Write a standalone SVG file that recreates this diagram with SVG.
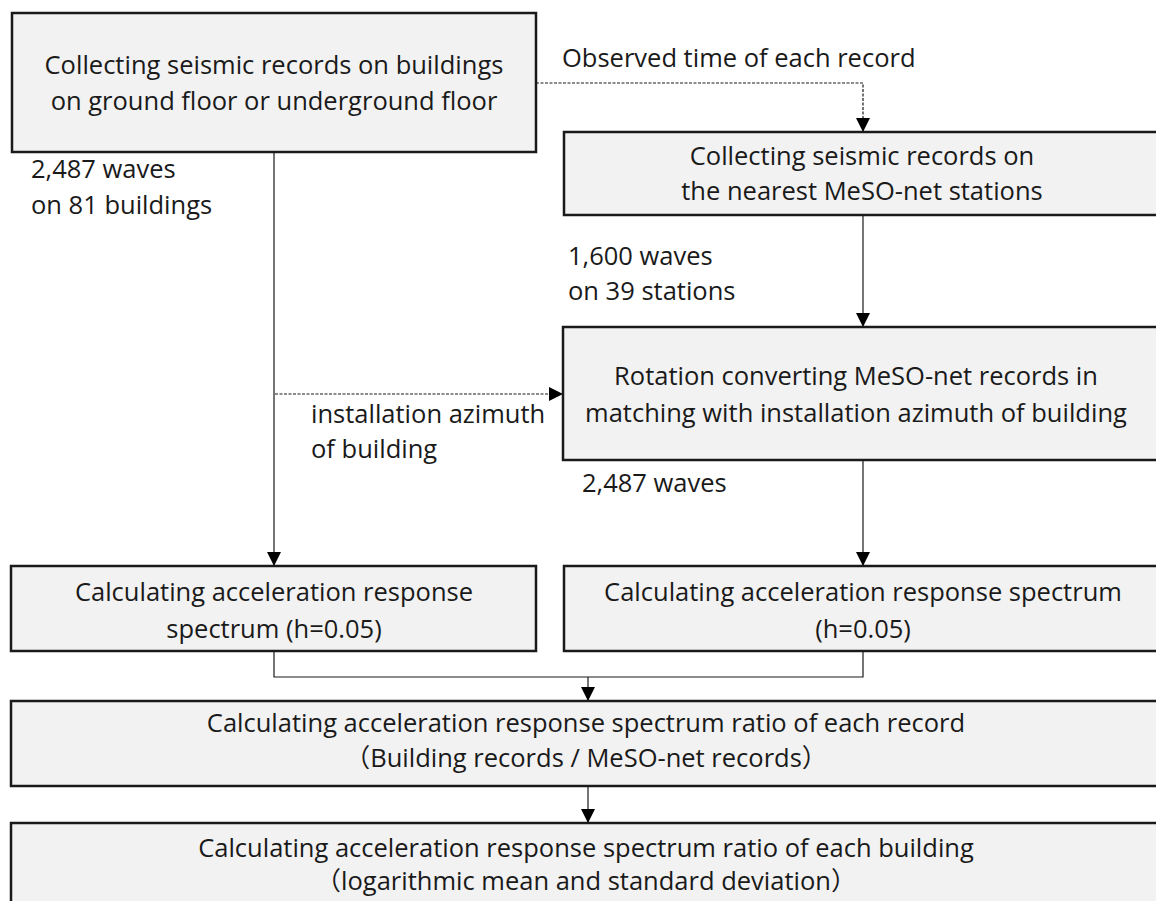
<svg xmlns="http://www.w3.org/2000/svg" width="1156" height="901" viewBox="0 0 1156 901">
<style>
.box{fill:#f2f2f2;stroke:#1a1a1a;stroke-width:2.5}
.t{font-family:"Open Sans","Noto Sans CJK JP",sans-serif;font-size:25.5px;fill:#1a1a1a}
.c{text-anchor:middle}
.ln{fill:none;stroke:#1a1a1a;stroke-width:1.2}
.dash{stroke-dasharray:3 1.5}
</style>
<defs>
<marker id="ah" markerUnits="userSpaceOnUse" markerWidth="14" markerHeight="14" viewBox="0 0 14 14" refX="14" refY="7" orient="auto">
<path d="M0,0 L14,7 L0,14 Z" fill="#000"/>
</marker>
</defs>
<rect width="1156" height="901" fill="#fff"/>
<g id="connectors">
<path class="ln dash" d="M536,83 H863 V132" marker-end="url(#ah)"/>
<path class="ln" d="M274,152 V566" marker-end="url(#ah)"/>
<path class="ln dash" d="M275,394 H563" marker-end="url(#ah)"/>
<path class="ln" d="M863,215 V327" marker-end="url(#ah)"/>
<path class="ln" d="M863,460 V566" marker-end="url(#ah)"/>
<path class="ln" d="M274,651 V677 H863 V651"/>
<path class="ln" d="M588,677 V701" marker-end="url(#ah)"/>
<path class="ln" d="M588,786 V823" marker-end="url(#ah)"/>
</g>
<g id="labels">
<text class="t" x="562" y="67">Observed time of each record</text>
<text class="t" x="31" y="178">2,487 waves</text>
<text class="t" x="31" y="214">on 81 buildings</text>
<text class="t" x="568" y="265">1,600 waves</text>
<text class="t" x="568" y="300">on 39 stations</text>
<text class="t" x="311" y="423">installation azimuth</text>
<text class="t" x="311" y="458">of building</text>
<text class="t" x="582" y="492">2,487 waves</text>
</g>
<g id="n1">
<rect class="box" x="12" y="13" width="524" height="139"/>
<text class="t c" x="274" y="74">Collecting seismic records on buildings</text>
<text class="t c" x="274" y="110">on ground floor or underground floor</text>
</g>
<g id="n2">
<rect class="box" x="564" y="132" width="600" height="83"/>
<text class="t c" x="862" y="165">Collecting seismic records on</text>
<text class="t c" x="862" y="200">the nearest MeSO-net stations</text>
</g>
<g id="n3">
<rect class="box" x="563" y="327" width="600" height="133"/>
<text class="t c" x="856" y="385">Rotation converting MeSO-net records in</text>
<text class="t c" x="856" y="422">matching with installation azimuth of building</text>
</g>
<g id="n4">
<rect class="box" x="11" y="566" width="525" height="85"/>
<text class="t c" x="274" y="601">Calculating acceleration response</text>
<text class="t c" x="274" y="638">spectrum (h=0.05)</text>
</g>
<g id="n5">
<rect class="box" x="564" y="566" width="600" height="85"/>
<text class="t c" x="863" y="601">Calculating acceleration response spectrum</text>
<text class="t c" x="863" y="638">(h=0.05)</text>
</g>
<g id="n6">
<rect class="box" x="11" y="701" width="1155" height="85"/>
<text class="t c" x="586" y="732">Calculating acceleration response spectrum ratio of each record</text>
<text class="t c" x="586" y="767">（Building records / MeSO-net records）</text>
</g>
<g id="n7">
<rect class="box" x="11" y="823" width="1155" height="90"/>
<text class="t c" x="586" y="857">Calculating acceleration response spectrum ratio of each building</text>
<text class="t c" x="586" y="890">（logarithmic mean and standard deviation）</text>
</g>
</svg>
